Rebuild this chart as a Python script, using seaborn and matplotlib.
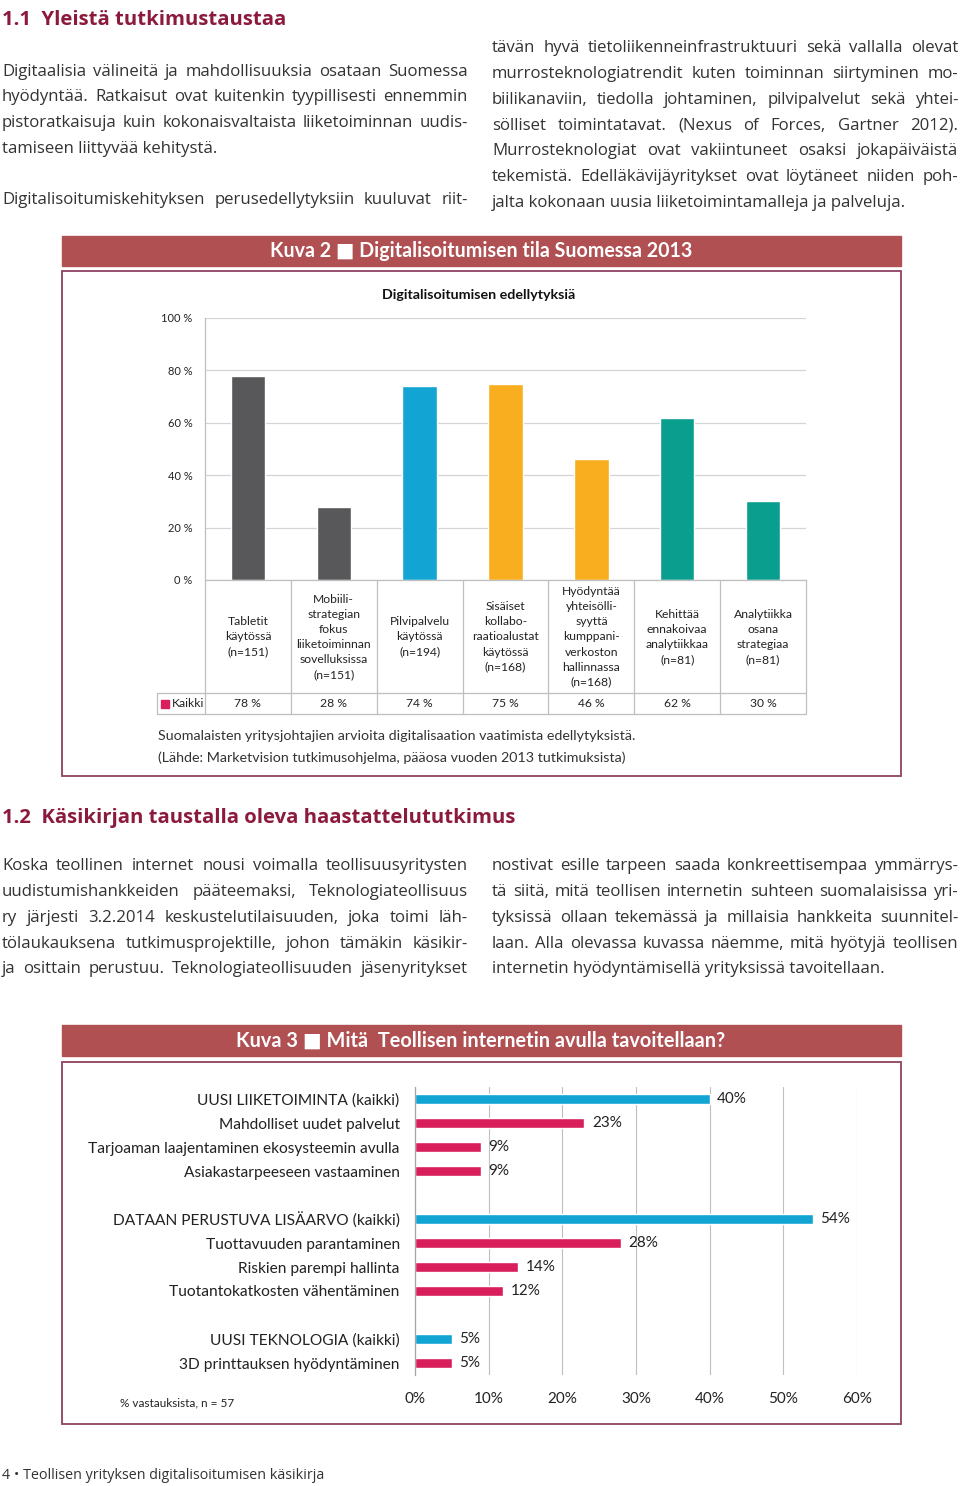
import matplotlib
matplotlib.use("Agg")
import matplotlib.pyplot as plt
from matplotlib.patches import Rectangle
from matplotlib.lines import Line2D
from matplotlib.transforms import blended_transform_factory
import seaborn as sns
import pandas as pd

# --- chart 1 data (Kuva 2) ---
cat_labels1 = [
    "Tabletit\nkäytössä\n(n=151)",
    "Mobiili-\nstrategian\nfokus\nliiketoiminnan\nsovelluksissa\n(n=151)",
    "Pilvipalvelu\nkäytössä\n(n=194)",
    "Sisäiset\nkollabo-\nraatioalustat\nkäytössä\n(n=168)",
    "Hyödyntää\nyhteisölli-\nsyyttä\nkumppani-\nverkoston\nhallinnassa\n(n=168)",
    "Kehittää\nennakoivaa\nanalytiikkaa\n(n=81)",
    "Analytiikka\nosana\nstrategiaa\n(n=81)",
]
values1 = [78, 28, 74, 75, 46, 62, 30]
colors1 = ["#58585a", "#58585a", "#12a5d4", "#f9ae1f", "#f9ae1f", "#0a9e8e", "#0a9e8e"]
yticks1 = [0, 20, 40, 60, 80, 100]

# --- chart 2 data (Kuva 3) ---
labels2 = [
    "UUSI LIIKETOIMINTA (kaikki)",
    "Mahdolliset uudet palvelut",
    "Tarjoaman laajentaminen ekosysteemin avulla",
    "Asiakastarpeeseen vastaaminen",
    "DATAAN PERUSTUVA LISÄARVO (kaikki)",
    "Tuottavuuden parantaminen",
    "Riskien parempi hallinta",
    "Tuotantokatkosten vähentäminen",
    "UUSI TEKNOLOGIA (kaikki)",
    "3D printtauksen hyödyntäminen",
]
values2 = [40, 23, 9, 9, 54, 28, 14, 12, 5, 5]
kinds2 = ["kaikki", "osa", "osa", "osa", "kaikki", "osa", "osa", "osa", "kaikki", "osa"]
xticks2 = [0, 10, 20, 30, 40, 50, 60]

# --- page text ---
heading1 = "1.1  Yleistä tutkimustaustaa"
col1a = [
    "Digitaalisia välineitä ja mahdollisuuksia osataan Suomessa",
    "hyödyntää. Ratkaisut ovat kuitenkin tyypillisesti ennemmin",
    "pistoratkaisuja kuin kokonaisvaltaista liiketoiminnan uudis-",
    "tamiseen liittyvää kehitystä.",
    "",
    "Digitalisoitumiskehityksen perusedellytyksiin kuuluvat riit-",
]
col2a = [
    "tävän hyvä tietoliikenneinfrastruktuuri sekä vallalla olevat",
    "murrosteknologiatrendit kuten toiminnan siirtyminen mo-",
    "biilikanaviin, tiedolla johtaminen, pilvipalvelut sekä yhtei-",
    "sölliset toimintatavat. (Nexus of Forces, Gartner 2012).",
    "Murrosteknologiat ovat vakiintuneet osaksi jokapäiväistä",
    "tekemistä. Edelläkävijäyritykset ovat löytäneet niiden poh-",
    "jalta kokonaan uusia liiketoimintamalleja ja palveluja.",
]
heading2 = "1.2  Käsikirjan taustalla oleva haastattelututkimus"
col1b = [
    "Koska teollinen internet nousi voimalla teollisuusyritysten",
    "uudistumishankkeiden pääteemaksi, Teknologiateollisuus",
    "ry järjesti 3.2.2014 keskustelutilaisuuden, joka toimi läh-",
    "tölaukauksena tutkimusprojektille, johon tämäkin käsikir-",
    "ja osittain perustuu. Teknologiateollisuuden jäsenyritykset",
]
col2b = [
    "nostivat esille tarpeen saada konkreettisempaa ymmärrys-",
    "tä siitä, mitä teollisen internetin suhteen suomalaisissa yri-",
    "tyksissä ollaan tekemässä ja millaisia hankkeita suunnitel-",
    "laan. Alla olevassa kuvassa näemme, mitä hyötyjä teollisen",
    "internetin hyödyntämisellä yrityksissä tavoitellaan.",
]

W, H = 960, 1486
BODY = "#333333"
MAROON = "#8c1a3c"
BANNER = "#b05052"
FRAME = "#8e4162"
BLUE = "#12a5d4"
RED = "#d81e5b"
PAGE_FONT = ["Open Sans", "DejaVu Sans"]

sns.set_style("white")
plt.rcParams["font.family"] = ["Lato", "DejaVu Sans"]

fig = plt.figure(figsize=(W / 100, H / 100), dpi=100)
renderer = fig.canvas.get_renderer()


def px(x):
    return x / W


def py(y):
    return 1 - y / H


def width_at(s, size, weight="normal", family=PAGE_FONT):
    t = fig.text(0, 0, s, fontsize=size, fontweight=weight, family=family)
    w = t.get_window_extent(renderer).width
    t.remove()
    return w


def fit_size(s, target, weight="normal", family=PAGE_FONT):
    return 10 * target / width_at(s, 10, weight, family)


def text_line(line, x0, x1, y, size, justify=True):
    words = line.split()
    if not words:
        return
    if not justify or len(words) < 2:
        fig.text(px(x0), py(y), line, fontsize=size, color=BODY, va="baseline", family=PAGE_FONT)
        return
    # shrink a line only when it would not fit with normal spacing
    widths = [width_at(w, size) for w in words]
    min_gap = 0.2 * size * 100 / 72
    need = sum(widths) + min_gap * (len(words) - 1)
    if need > x1 - x0:
        size *= (x1 - x0) / need
        widths = [width_at(w, size) for w in words]
    gap = (x1 - x0 - sum(widths)) / (len(words) - 1)
    x = x0
    for w, wd in zip(words, widths):
        fig.text(px(x), py(y), w, fontsize=size, color=BODY, va="baseline", family=PAGE_FONT)
        x += wd + gap


def paragraph(lines, x0, x1, y0, step, size, last_justified=False):
    for i, line in enumerate(lines):
        if i == len(lines) - 1:
            just = last_justified
        else:
            just = lines[i + 1] != ""
        text_line(line, x0, x1, y0 + i * step, size, just)


def banner(y0, y1, title, target):
    fig.patches.append(Rectangle((px(62), py(y1)), px(901) - px(62), py(y0) - py(y1),
                                 transform=fig.transFigure, color=BANNER, zorder=0))
    size = fit_size(title, target, "bold", ["Lato", "DejaVu Sans"])
    fig.text(px(481), py((y0 + y1) / 2), title, color="white", fontsize=size,
             fontweight="bold", ha="center", va="center")


def frame(y0, y1):
    fig.patches.append(Rectangle((px(62), py(y1)), px(901) - px(62), py(y0) - py(y1),
                                 transform=fig.transFigure, fill=False,
                                 edgecolor=FRAME, lw=1.3, zorder=0))


BODY_SIZE = 12.1
fig.text(px(2), py(25), heading1, color=MAROON, fontsize=fit_size(heading1, 284, "bold"),
         fontweight="bold", va="baseline", family=PAGE_FONT)
paragraph(col1a, 2, 468, 75.5, 25.7, BODY_SIZE, last_justified=True)
paragraph(col2a, 492, 958, 52.5, 25.7, BODY_SIZE)

# ---------------- Kuva 2 ----------------
banner(236, 266, "Kuva 2 ■ Digitalisoitumisen tila Suomessa 2013", 420)
frame(271, 776)

ax1 = fig.add_axes([px(205), py(580), (806 - 205) / W, (580 - 318) / H])
df1 = pd.DataFrame({"kategoria": cat_labels1, "osuus": values1})
sns.barplot(data=df1, x="kategoria", y="osuus", hue="kategoria", palette=colors1,
            legend=False, width=0.4, saturation=1, ax=ax1)
ax1.set_ylim(0, 100)
ax1.set_xlim(-0.5, len(values1) - 0.5)
ax1.set_yticks(yticks1)
ax1.set_yticklabels([f"{v} %" for v in yticks1], fontsize=8, color="#222222")
ax1.set_xticks([])
ax1.set_xlabel("")
ax1.set_ylabel("")
ax1.grid(axis="y", color="#d4d4d4", lw=0.9)
ax1.set_axisbelow(True)
ax1.tick_params(axis="y", length=0, pad=9)
for s in ["top", "right"]:
    ax1.spines[s].set_visible(False)
for s in ["left", "bottom"]:
    ax1.spines[s].set_color("#bfbfbf")
    ax1.spines[s].set_linewidth(0.9)
fig.text(px(479), py(295), "Digitalisoitumisen edellytyksiä", fontsize=10.3,
         fontweight="bold", ha="center", va="center", color="#111111")

# data table under the bars
trans = blended_transform_factory(ax1.transData, fig.transFigure)
for k in range(len(values1) + 1):
    ax1.plot([k - 0.5, k - 0.5], [py(580), py(714)], transform=trans, color="#bfbfbf",
             lw=0.9, clip_on=False)
for yy in (693, 714):
    fig.add_artist(Line2D([px(157), px(806)], [py(yy), py(yy)], transform=fig.transFigure,
                          color="#bfbfbf", lw=0.9))
fig.add_artist(Line2D([px(157), px(157)], [py(693), py(714)], transform=fig.transFigure,
                      color="#bfbfbf", lw=0.9))
for i, (lab, v) in enumerate(zip(cat_labels1, values1)):
    ax1.text(i, py(637), lab, transform=trans, ha="center", va="center", fontsize=8.7,
             color="#222222", linespacing=1.45)
    ax1.text(i, py(704), f"{v} %", transform=trans, ha="center", va="center", fontsize=8.7,
             color="#222222")
fig.patches.append(Rectangle((px(161), py(708)), px(8), 8 / H, transform=fig.transFigure,
                             color=RED))
fig.text(px(172), py(704), "Kaikki", fontsize=8.7, va="center", color="#222222")

fig.text(px(158), py(740), "Suomalaisten yritysjohtajien arvioita digitalisaation vaatimista edellytyksistä.",
         fontsize=10.3, color=BODY, va="baseline")
fig.text(px(158), py(762), "(Lähde: Marketvision tutkimusohjelma, pääosa vuoden 2013 tutkimuksista)",
         fontsize=10.3, color=BODY, va="baseline")

# ---------------- 1.2 ----------------
fig.text(px(2), py(823), heading2, color=MAROON, fontsize=fit_size(heading2, 513, "bold"),
         fontweight="bold", va="baseline", family=PAGE_FONT)
paragraph(col1b, 2, 468, 870.5, 25.7, BODY_SIZE, last_justified=True)
paragraph(col2b, 492, 958, 870.5, 25.7, BODY_SIZE)

# ---------------- Kuva 3 ----------------
banner(1025, 1056, "Kuva 3 ■ Mitä  Teollisen internetin avulla tavoitellaan?", 488)
frame(1062, 1424)

order2 = labels2[:4] + [" "] + labels2[4:8] + ["  "] + labels2[8:]
ax2 = fig.add_axes([px(415), py(1375), (857 - 415) / W, (1375 - 1087) / H])
df2 = pd.DataFrame({"tavoite": labels2, "osuus": values2, "ryhma": kinds2})
sns.barplot(data=df2, y="tavoite", x="osuus", hue="ryhma", order=order2, orient="h",
            palette={"kaikki": BLUE, "osa": RED}, dodge=False, width=0.42, saturation=1,
            legend=False, ax=ax2)
ax2.set_xlim(0, 60)
ax2.set_ylim(len(order2) - 0.5, -0.5)
ax2.set_xticks(xticks2)
ax2.set_xticklabels([f"{v}%" for v in xticks2], fontsize=11, color="#222222")
ax2.set_yticks(range(len(order2)))
ax2.set_yticklabels([s.strip() for s in order2], fontsize=11.2, color="#222222")
ax2.set_xlabel("")
ax2.set_ylabel("")
ax2.grid(axis="x", color="#bfbfbf", lw=0.8)
ax2.grid(axis="y", visible=False)
ax2.set_axisbelow(True)
ax2.tick_params(axis="x", length=0, pad=12)
ax2.tick_params(axis="y", length=0, pad=11)
for s in ["top", "right", "bottom"]:
    ax2.spines[s].set_visible(False)
ax2.spines["left"].set_color("#a6a6a6")
ax2.spines["left"].set_linewidth(0.9)
for lab, v in zip(labels2, values2):
    ax2.text(v + 1.0, order2.index(lab), f"{v}%", va="center", fontsize=11, color="#222222")

fig.text(px(120), py(1403), "% vastauksista, n = 57", fontsize=8.5, va="center", color="#222222")

footer = "4 • Teollisen yrityksen digitalisoitumisen käsikirja"
fig.text(px(2), py(1479), footer, fontsize=fit_size(footer, 324), color=BODY, va="baseline",
         family=PAGE_FONT)

fig.savefig("out.png", dpi=100, facecolor="white")
